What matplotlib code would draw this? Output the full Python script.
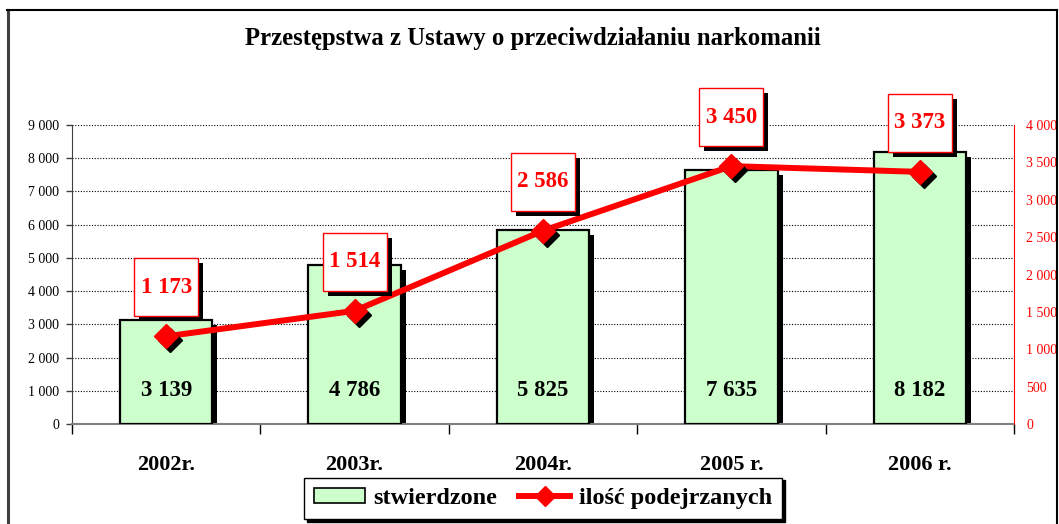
import matplotlib
matplotlib.use("Agg")
import matplotlib.pyplot as plt
import matplotlib.transforms as mtrans
from matplotlib.patches import Rectangle, Patch
from matplotlib.lines import Line2D
from matplotlib.ticker import FuncFormatter, FixedLocator

# ---- data ----
years = ["2002r.", "2003r.", "2004r.", "2005 r.", "2006 r."]
stwierdzone = [3139, 4786, 5825, 7635, 8182]
podejrzani = [1173, 1514, 2586, 3450, 3373]
left_ticks = [0, 1000, 2000, 3000, 4000, 5000, 6000, 7000, 8000, 9000]
right_ticks = [0, 500, 1000, 1500, 2000, 2500, 3000, 3500, 4000]
title = "Przestępstwa z Ustawy o przeciwdziałaniu narkomanii"
legend_labels = ["stwierdzone", "ilość podejrzanych"]

FONT = "Liberation Serif"
plt.rcParams["font.family"] = [FONT, "DejaVu Serif"]

W, H, DPI = 1059, 524, 100
fig = plt.figure(figsize=(W / DPI, H / DPI), dpi=DPI)
px = 1.0 / DPI  # inches per pixel


def fmt(v, pos=None):
    v = int(round(v))
    s = f"{v:,}".replace(",", " ")
    return s


ax = fig.add_axes([72 / W, 1 - 424 / H, (1014 - 72) / W, (424 - 125) / H])
ax2 = ax.twinx()

x = list(range(len(years)))
ax.set_xlim(-0.5, len(years) - 0.5)
ax.set_ylim(0, 9000)
ax2.set_ylim(0, 4000)

green = "#CCFFCC"
bw = 0.49
# bar shadows
shadow_t = mtrans.offset_copy(ax.transData, fig=fig, x=5, y=-5, units="dots")
ax.bar(x, stwierdzone, width=bw, color="black", transform=shadow_t, zorder=2)
ax.bar(x, stwierdzone, width=bw, color=green, edgecolor="black", linewidth=1.6, zorder=3)

# value labels in bars
for i, v in enumerate(stwierdzone):
    ax.text(i, 1000, fmt(v), ha="center", va="center", fontsize=16.5,
            fontweight="bold", color="black", zorder=4)

# grid
ax.set_yticks(left_ticks)
ax.yaxis.set_major_formatter(FuncFormatter(fmt))
ax.yaxis.grid(True, linestyle=(0, (1, 1.5)), color="black", linewidth=0.8)
ax.set_axisbelow(True)
ax.tick_params(axis="y", direction="out", length=4, width=1, color="#404040",
               labelsize=10, pad=5)

# x axis: ticks at boundaries, labels at centers
ax.xaxis.set_major_locator(FixedLocator([i - 0.5 for i in range(len(years) + 1)]))
ax.xaxis.set_major_formatter(FuncFormatter(lambda v, p: ""))
ax.xaxis.set_minor_locator(FixedLocator(x))
ax.set_xticklabels(years, minor=True)
ax.tick_params(axis="x", which="major", direction="out", length=7, width=1, color="black")
ax.tick_params(axis="x", which="minor", length=0, pad=22, labelsize=16)
for t in ax.get_xticklabels(minor=True):
    t.set_fontweight("bold")

for s in ["top", "right"]:
    ax.spines[s].set_visible(False)
ax.spines["left"].set_color("#404040")
ax.spines["bottom"].set_color("#808080")
ax.spines["bottom"].set_linewidth(1.5)

# right axis
ax2.set_yticks(right_ticks)
ax2.yaxis.set_major_formatter(FuncFormatter(fmt))
ax2.tick_params(axis="y", colors="red", length=0, labelsize=10, pad=9)
for s in ["top", "left", "bottom"]:
    ax2.spines[s].set_visible(False)
ax2.spines["right"].set_color("red")

# line with markers
ax2.plot(x, podejrzani, color="red", linewidth=4.3, zorder=3, solid_capstyle="butt")
mshadow_t = mtrans.offset_copy(ax2.transData, fig=fig, x=4, y=-4, units="dots")
ax2.plot(x, podejrzani, linestyle="none", marker="D", markersize=12,
         color="black", transform=mshadow_t, zorder=4)
ax2.plot(x, podejrzani, linestyle="none", marker="D", markersize=12,
         color="red", zorder=5)

# value boxes
bwid, bhei, boff = 64, 58, 49
for i, v in enumerate(podejrzani):
    base = fig.dpi_scale_trans + mtrans.ScaledTranslation(i, v, ax2.transData)
    sh = Rectangle(((-bwid / 2 + 5) * px, (boff - bhei / 2 - 5) * px), bwid * px, bhei * px,
                   transform=base, facecolor="black", edgecolor="none",
                   zorder=6, clip_on=False)
    bx = Rectangle((-bwid / 2 * px, (boff - bhei / 2) * px), bwid * px, bhei * px,
                   transform=base, facecolor="white", edgecolor="red", linewidth=1.0,
                   zorder=7, clip_on=False)
    ax2.add_patch(sh)
    ax2.add_patch(bx)
    ax2.annotate(fmt(v), (i, v), xytext=(0, boff), textcoords="offset pixels",
                 ha="center", va="center", fontsize=16.5, fontweight="bold",
                 color="red", zorder=8, annotation_clip=False)

# title
fig.text(533 / W, 1 - 38 / H, title, ha="center", va="center",
         fontsize=17.8, fontweight="bold")

# legend
handles = [Patch(facecolor=green, edgecolor="black", linewidth=1.2),
           Line2D([], [], color="red", linewidth=4.3, marker="D", markersize=10)]
leg = fig.legend(handles, legend_labels, loc="center",
                 bbox_to_anchor=(543 / W, 1 - 498.5 / H), ncol=2, frameon=True,
                 fancybox=False, edgecolor="black", framealpha=1,
                 shadow={"color": "black", "alpha": 1},
                 prop={"family": FONT, "weight": "bold", "size": 17.5},
                 handlelength=2.1, handleheight=0.6, columnspacing=0.9,
                 borderpad=0.42, handletextpad=0.35, borderaxespad=0)
leg.get_frame().set_linewidth(1.0)

# outer frame
fig.add_artist(Line2D([8 / W, 8 / W], [0, 1 - 10 / H], color="#404040", linewidth=2.2,
                      transform=fig.transFigure))
fig.add_artist(Line2D([7 / W, 1057 / W], [1 - 10 / H, 1 - 10 / H], color="black",
                      linewidth=1.5, transform=fig.transFigure))
fig.add_artist(Line2D([1057 / W, 1057 / W], [0, 1 - 10 / H], color="black",
                      linewidth=1.5, transform=fig.transFigure))

fig.savefig("out.png", dpi=DPI)
